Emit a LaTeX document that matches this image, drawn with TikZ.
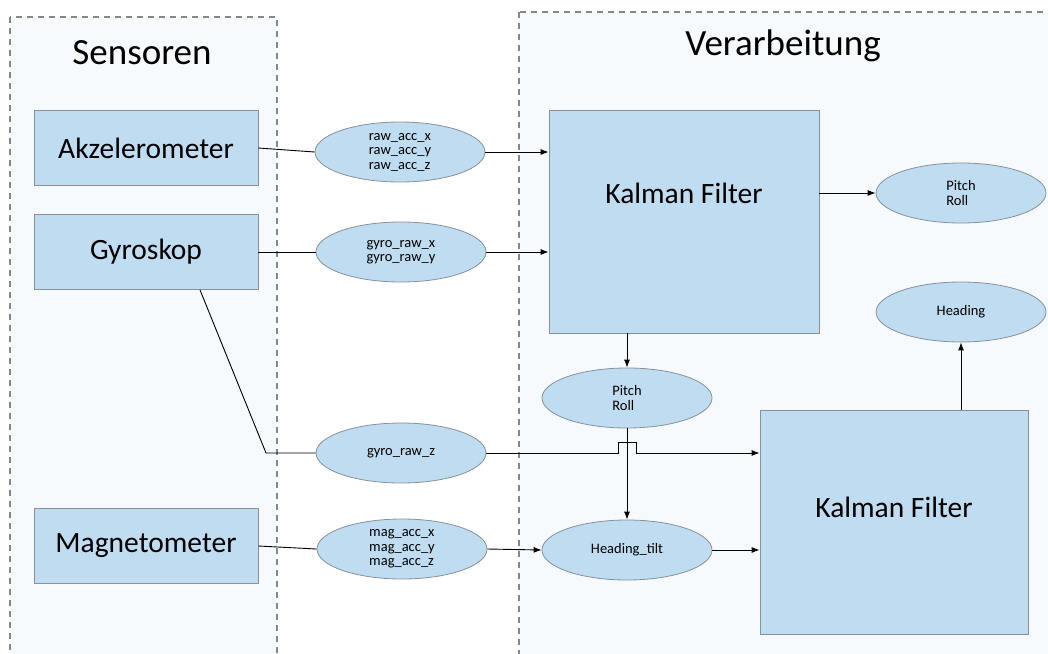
\documentclass[tikz,border=0pt]{standalone}
\usepackage{fontspec}
\setmainfont{Carlito}
\usetikzlibrary{shapes.geometric,arrows.meta}

\definecolor{boxblue}{RGB}{192,220,240}
\definecolor{boxline}{RGB}{135,145,155}
\definecolor{areabg}{RGB}{246,250,252}
\definecolor{areaframe}{RGB}{135,135,135}

\begin{document}
\begin{tikzpicture}[x=1pt,y=-1pt,
    area/.style={draw=areaframe, fill=areabg, line width=1.3pt, dash pattern=on 6pt off 5pt},
    title/.style={font=\fontsize{37}{40}\selectfont},
    block/.style={draw=boxline, fill=boxblue, line width=0.8pt, inner sep=0pt, font=\fontsize{29.5}{34}\selectfont},
    signal/.style={ellipse, draw=boxline, fill=boxblue, line width=0.8pt, inner sep=0pt,
      minimum width=170pt, minimum height=60pt, align=left, font=\fontsize{14.5}{14.5}\selectfont},
    link/.style={line width=0.9pt},
    flow/.style={link, -{Latex[length=8pt,width=6pt]}}]
    \useasboundingbox (0,0) rectangle (1048,653);
    \clip (0,0) rectangle (1048,653);
    \fill[white] (0,0) rectangle (1048,653);
    % 两个虚线区域
    \draw[area] (10,17) rectangle (277,680);
    \draw[area] (519,12) rectangle (1070,680);
    \node[title] (sensoren) at (142,53) {Sensoren};
    \node[title] (verarbeitung) at (783,46) {Verarbeitung};
    % 传感器
    \node[block, minimum width=224pt, minimum height=75pt] (akzel) at (146,148) {Akzelerometer};
    \node[block, minimum width=224pt, minimum height=75pt] (gyro) at (146,252) {Gyroskop};
    \node[block, minimum width=224pt, minimum height=75pt] (magnet) at (146,546) {Magnetometer};
    % 信号
    \node[signal] (accsig) at (400,152) {raw\_acc\_x\\raw\_acc\_y\\raw\_acc\_z};
    \node[signal] (gyrosig) at (401,252) {gyro\_raw\_x\\gyro\_raw\_y};
    \node[signal] (gyrozsig) at (401,453) {gyro\_raw\_z};
    \node[signal] (magsig) at (402,549) {mag\_acc\_x\\mag\_acc\_y\\mag\_acc\_z};
    % 处理, 文字偏上
    \node[block, minimum width=270pt, minimum height=223pt,
      label={[font=\fontsize{29.5}{34}\selectfont, yshift=28pt]center:Kalman Filter}] (kalmanA) at (684,221.5) {};
    \node[block, minimum width=268pt, minimum height=224pt,
      label={[font=\fontsize{29.5}{34}\selectfont, yshift=15pt]center:Kalman Filter}] (kalmanB) at (894,522) {};
    \node[signal] (pitchA) at (961,193) {Pitch\\Roll};
    \node[signal] (heading) at (961,312) {Heading};
    \node[signal] (pitchB) at (627,398) {Pitch\\Roll};
    \node[signal] (tilt) at (627,550) {Heading\_tilt};
    % 连线
    \draw[link] (akzel.east) -- (accsig.west);
    \draw[flow] (accsig.east) -- (kalmanA.west |- accsig.east);
    \draw[link] (gyro.east) -- (gyrosig.west);
    \draw[flow] (gyrosig.east) -- (kalmanA.west |- gyrosig.east);
    \coordinate (knick) at (266,453);
    \draw[link] ([xshift=54pt]gyro.south) -- (knick) -- (gyrozsig.west);
    \coordinate (hop) at (pitchB.center |- gyrozsig.east); % 跨线
    \draw[flow] (gyrozsig.east) -- ([xshift=-9pt]hop) -- ++(0,-11) -- ++(18,0) -- ++(0,11) -- (kalmanB.west |- hop);
    \draw[link] (magnet.east) -- (magsig.west);
    \draw[flow] (magsig.east) -- (tilt.west);
    \draw[flow] (tilt.east) -- (kalmanB.west |- tilt.east);
    \draw[flow] (pitchB.north |- kalmanA.south) -- (pitchB.north);
    \draw[flow] (pitchB.south) -- (tilt.north);
    \draw[flow] (kalmanA.east |- pitchA.west) -- (pitchA.west);
    \draw[flow] (heading.south |- kalmanB.north) -- (heading.south);
\end{tikzpicture}
\end{document}
